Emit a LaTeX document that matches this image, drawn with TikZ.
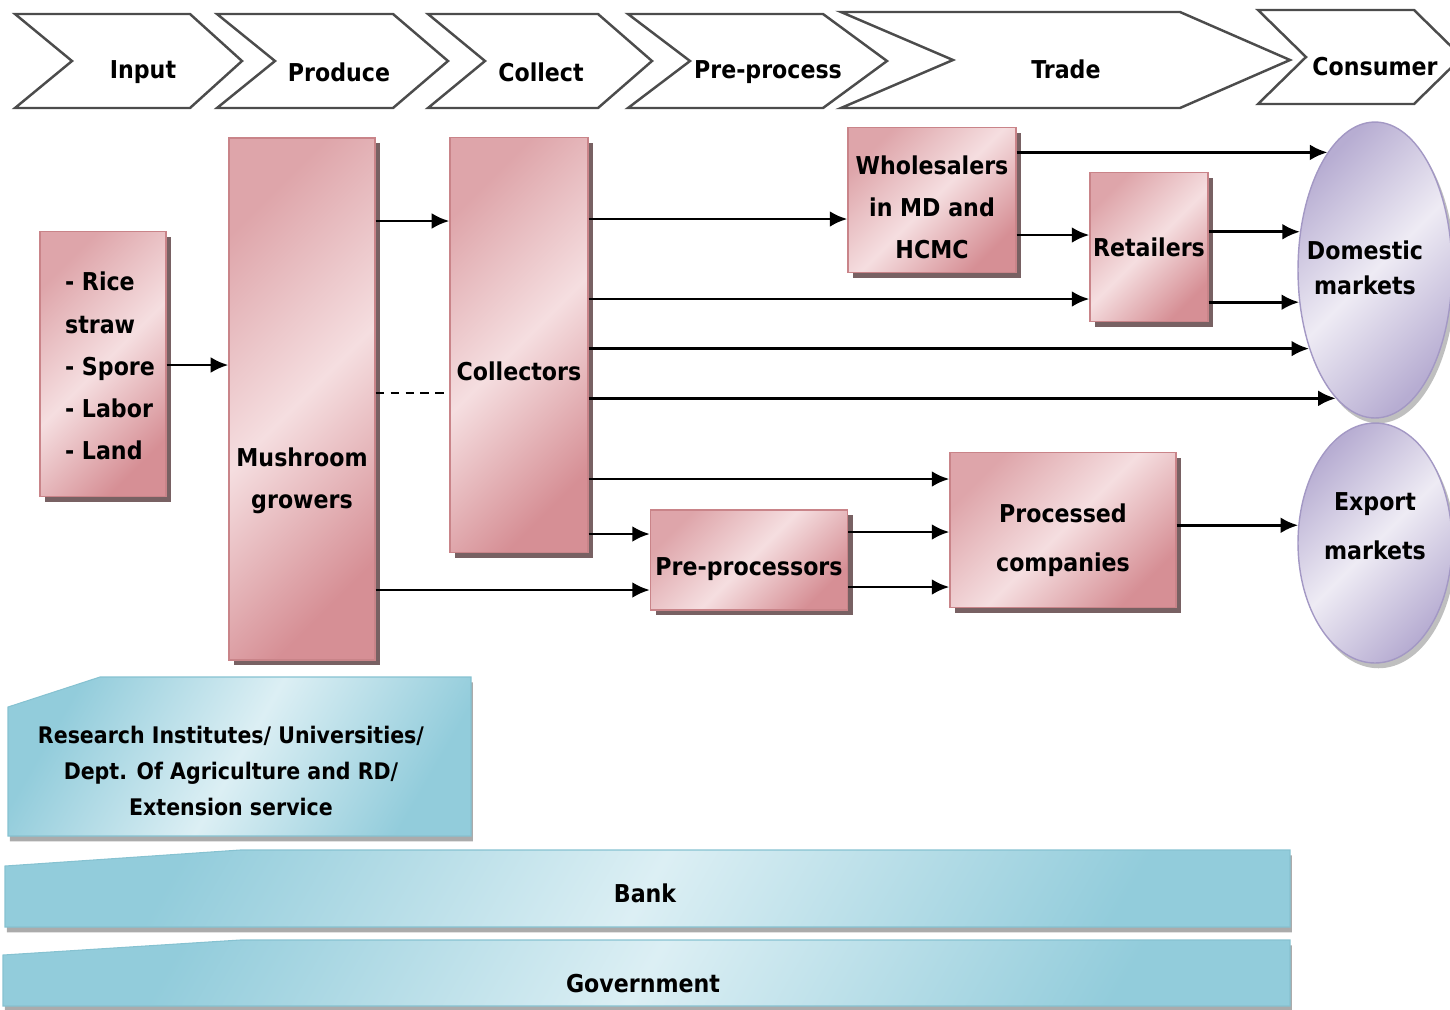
\documentclass[tikz,border=0pt]{standalone}
\usepackage{fontspec}
\setmainfont{DejaVu Sans Condensed}
\usepackage{xcolor}
\usepackage{tikz}
\usetikzlibrary{arrows.meta}
\usetikzlibrary{positioning}
\usetikzlibrary{shapes}
\usetikzlibrary{shadows}

\definecolor{pinkdark}{HTML}{D68F95}
\definecolor{pinklight}{HTML}{F5DEE0}
\definecolor{pinkline}{HTML}{C98489}
\definecolor{lavdark}{HTML}{B7ADD2}
\definecolor{lavlight}{HTML}{EEEBF4}
\definecolor{lavline}{HTML}{A398C4}
\definecolor{bluedark}{HTML}{92CCDB}
\definecolor{bluelight}{HTML}{DCEFF4}
\definecolor{blueline}{HTML}{86C2D1}

\begin{document}
\begin{tikzpicture}[x=0.02cm,y=-0.02cm,>={Latex[length=10pt,width=9pt]},
	font=\bfseries\fontsize{14}{24}\selectfont,
	chev/.style={draw=black!70,line width=1.4pt,fill=white},
	actor/.style={draw=pinkline,line width=0.8pt,left color=pinkdark!80,right color=pinkdark,middle color=pinklight,shading angle=45,
		drop shadow={shadow xshift=3pt,shadow yshift=-3pt,fill=black!60!pinkdark,opacity=.8},align=center,inner sep=0pt},
	market/.style={ellipse,draw=lavline,line width=0.8pt,left color=lavdark,right color=lavdark,middle color=lavlight,shading angle=45,
		drop shadow={shadow xshift=2pt,shadow yshift=-3pt,fill=black!50,opacity=.5},align=center,inner sep=0pt},
	band/.style={draw=blueline,line width=0.6pt,left color=bluedark,right color=bluedark,middle color=bluelight,shading angle=60,
		drop shadow={shadow xshift=1pt,shadow yshift=-3pt,fill=black!55,opacity=.6}},
	flow/.style={->,line width=1.6pt}]

	\useasboundingbox (0,0) rectangle (1450,1009);

	% stages
	\draw[chev] (15,14) -- (190,14) -- (242,61) -- (190,108) -- (15,108) -- (72,61) -- cycle;
	\draw[chev] (217,14) -- (393,14) -- (448,61) -- (393,108) -- (217,108) -- (275,61) -- cycle;
	\draw[chev] (428,14) -- (598,14) -- (652,61) -- (598,108) -- (428,108) -- (485,61) -- cycle;
	\draw[chev] (628,14) -- (823,14) -- (887,61) -- (823,108) -- (628,108) -- (690,61) -- cycle;
	\draw[chev] (841,12) -- (1180,12) -- (1290,60) -- (1180,108) -- (841,108) -- (953,60) -- cycle;
	\draw[chev] (1258,10) -- (1414,10) -- (1462,57) -- (1414,104) -- (1258,104) -- (1306,57) -- cycle;

	\node (s1) at (143,72) {Input};
	\node (s2) at (339,72) {Produce};
	\node (s3) at (541,72) {Collect};
	\node (s4) at (768,72) {Pre-process};
	\node (s5) at (1066,69) {Trade};
	\node (s6) at (1375,67) {Consumer};

	% actors
	\node[actor,minimum width=2.52cm,minimum height=5.3cm,
		label={[align=left,xshift=0.14cm,yshift=-0.04cm]center:- Rice\\straw\\- Spore\\- Labor\\- Land}] (inp) at (103,364) {};
	\node[actor,minimum width=2.92cm,minimum height=10.44cm,
		label={[align=center,yshift=-1.64cm]center:Mushroom\\growers}] (grow) at (302,399) {};
	\node[actor,minimum width=2.76cm,minimum height=8.3cm,
		label={[yshift=-0.53cm]center:Collectors}] (coll) at (519,345) {};
	\node[actor,minimum width=3.36cm,minimum height=2.9cm,
		label={[align=center,yshift=-0.14cm]center:Wholesalers\\in MD and\\HCMC}] (whole) at (932,200) {};
	\node[actor,minimum width=2.36cm,minimum height=2.98cm] (ret) at (1149,247) {Retailers};
	\node[actor,minimum width=3.94cm,minimum height=2cm,
		label={[yshift=-0.18cm]center:Pre-processors}] (pre) at (749,560) {};
	\node[actor,minimum width=4.52cm,minimum height=3.1cm,
		label={[align=center,yshift=-0.2cm]center:Processed\\[4pt]companies}] (proc) at (1063,530) {};

	\node[market,minimum width=3.08cm,minimum height=5.92cm,
		label={[align=center,xshift=-0.2cm,yshift=0.04cm]center:Domestic\\[-4pt]markets}] (dom) at (1375,270) {};
	\node[market,minimum width=3.08cm,minimum height=4.8cm,
		label={[align=center,yshift=0.34cm]center:Export\\[4pt]markets}] (exp) at (1375,543) {};

	% flows
	\draw[flow] (inp.east |- 0,365) -- (grow.west |- 0,365);
	\draw[flow] (grow.east |- 0,221) -- (coll.west |- 0,221);
	\draw[line width=1.6pt,dash pattern=on 5pt off 3.5pt] (grow.east |- 0,393) -- (coll.west |- 0,393);
	\draw[flow] (grow.east |- 0,590) -- (pre.west |- 0,590);

	\draw[flow] (coll.east |- 0,219) -- (whole.west |- 0,219);
	\draw[flow] (coll.east |- 0,299) -- (ret.west |- 0,299);
	\draw[flow] (coll.east |- dom.230) -- (dom.230);
	\draw[flow] (coll.east |- dom.253) -- (dom.253);
	\draw[flow] (coll.east |- 0,479) -- (proc.west |- 0,479);
	\draw[flow] (coll.east |- 0,534) -- (pre.west |- 0,534);

	\draw[flow] (whole.east |- dom.112) -- (dom.112);
	\draw[flow] (whole.east |- 0,235) -- (ret.west |- 0,235);
	\draw[flow] (ret.east |- dom.153) -- (dom.153);
	\draw[flow] (ret.east |- dom.203) -- (dom.203);

	\draw[flow] (pre.east |- 0,532) -- (proc.west |- 0,532);
	\draw[flow] (pre.east |- 0,587) -- (proc.west |- 0,587);
	\draw[flow] (proc.east |- exp.167) -- (exp.167);

	% support
	\path[band] (8,707) -- (100,677) -- (471,677) -- (471,836) -- (8,836) -- cycle;
	\path[band] (5,866) -- (240,850) -- (1290,850) -- (1290,927) -- (5,927) -- cycle;
	\path[band] (3,955) -- (240,940) -- (1290,940) -- (1290,1006) -- (3,1006) -- cycle;

	\node[align=center,font=\bfseries\fontsize{13}{20.5}\selectfont] (res) at (231,771)
		{Research Institutes/ Universities/\\Dept. Of Agriculture and RD/\\Extension service};
	\node (bank) at (645,893) {Bank};
	\node (gov) at (643,984) {Government};

\end{tikzpicture}
\end{document}
